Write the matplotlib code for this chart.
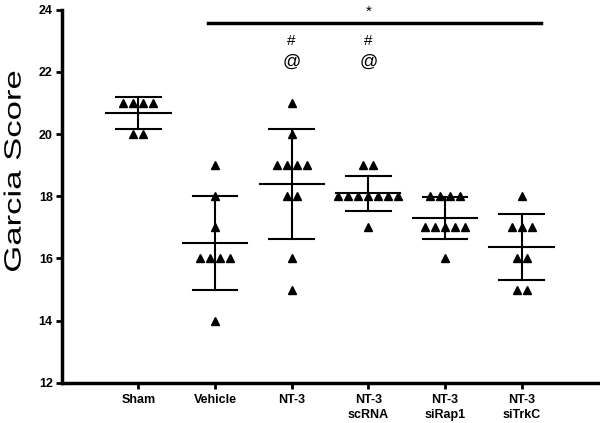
import matplotlib
matplotlib.use("Agg")
import matplotlib.pyplot as plt
from matplotlib import patheffects
from matplotlib.transforms import Affine2D
import numpy as np

groups = ["Sham", "Vehicle", "NT-3", "NT-3\nscRNA", "NT-3\nsiRap1", "NT-3\nsiTrkC"]
sham = [21, 21, 21, 21, 20, 20]
vehicle = [19, 18, 17, 16, 16, 16, 16, 14]
nt3 = [21, 20, 19, 19, 19, 19, 18, 18, 16, 15]
scrna = [19, 19, 18, 18, 18, 18, 18, 18, 18, 17]
sirap1 = [18, 18, 18, 18, 17, 17, 17, 17, 17, 16]
sitrkc = [18, 17, 17, 17, 16, 16, 15, 15]
data = [sham, vehicle, nt3, scrna, sirap1, sitrkc]
yticks = [12, 14, 16, 18, 20, 22, 24]


class Stretch(patheffects.AbstractPathEffect):
    """Stretch text glyphs along the writing direction."""
    def __init__(self, sx):
        super().__init__()
        self.sx = sx

    def draw_path(self, renderer, gc, tpath, affine, rgbFace=None):
        renderer.draw_path(gc, tpath, Affine2D().scale(self.sx, 1) + affine, rgbFace)


plt.rcParams['font.family'] = ['Liberation Sans', 'DejaVu Sans']
fig = plt.figure(figsize=(6, 4.23), dpi=100)
ax = fig.add_axes([0.103, 0.095, 0.894, 0.882])

spacing = 0.13
mean_hw = 0.42
cap_hw = 0.29
for i, vals in enumerate(data):
    xc = i + 1
    vals = np.array(vals, dtype=float)
    xs, ys = [], []
    for v in np.unique(vals):
        n = int(np.sum(vals == v))
        offs = (np.arange(n) - (n - 1) / 2) * spacing
        xs.extend(xc + offs)
        ys.extend([v] * n)
    ax.plot(xs, ys, linestyle='none', marker='^', color='black', markersize=5.5, zorder=3)
    m = vals.mean()
    sd = vals.std(ddof=1)
    ax.plot([xc - mean_hw, xc + mean_hw], [m, m], color='black', lw=1.5, zorder=2)
    ax.plot([xc, xc], [m - sd, m + sd], color='black', lw=1.5, zorder=2)
    for yy in (m - sd, m + sd):
        ax.plot([xc - cap_hw, xc + cap_hw], [yy, yy], color='black', lw=1.5, zorder=2)

# significance annotations
ax.plot([1.91, 6.25], [23.58, 23.58], color='black', lw=2.5)
ax.text(4.0, 23.95, "*", ha='center', va='center', fontsize=11)
for xc in (3, 4):
    ax.text(xc, 22.98, "#", ha='center', va='center', fontsize=11)
    ax.text(xc, 22.32, "@", ha='center', va='center', fontsize=13)

ax.set_xlim(0, 7.0)
ax.set_ylim(12, 24)
ax.set_yticks(yticks)
ax.set_yticklabels([str(t) for t in yticks], fontsize=9, fontweight='bold')
ax.set_xticks(range(1, 7))
ax.set_xticklabels(groups, fontsize=9, fontweight='bold', linespacing=1.3)
ax.tick_params(axis='both', direction='out', length=4, width=2, pad=2.5)
ax.tick_params(axis='x', pad=4)
ax.spines['top'].set_visible(False)
ax.spines['right'].set_visible(False)
for s in ('left', 'bottom'):
    ax.spines[s].set_linewidth(2.5)
ax.set_ylabel("Garcia Score", fontsize=17)
lab = ax.yaxis.label
lab.set_rotation_mode('anchor')
lab.set_ha('left')
lab.set_va('center')
ax.yaxis.set_label_coords(-0.088, 0.295)
lab.set_path_effects([Stretch(1.47)])

fig.savefig("out.png", dpi=100)
